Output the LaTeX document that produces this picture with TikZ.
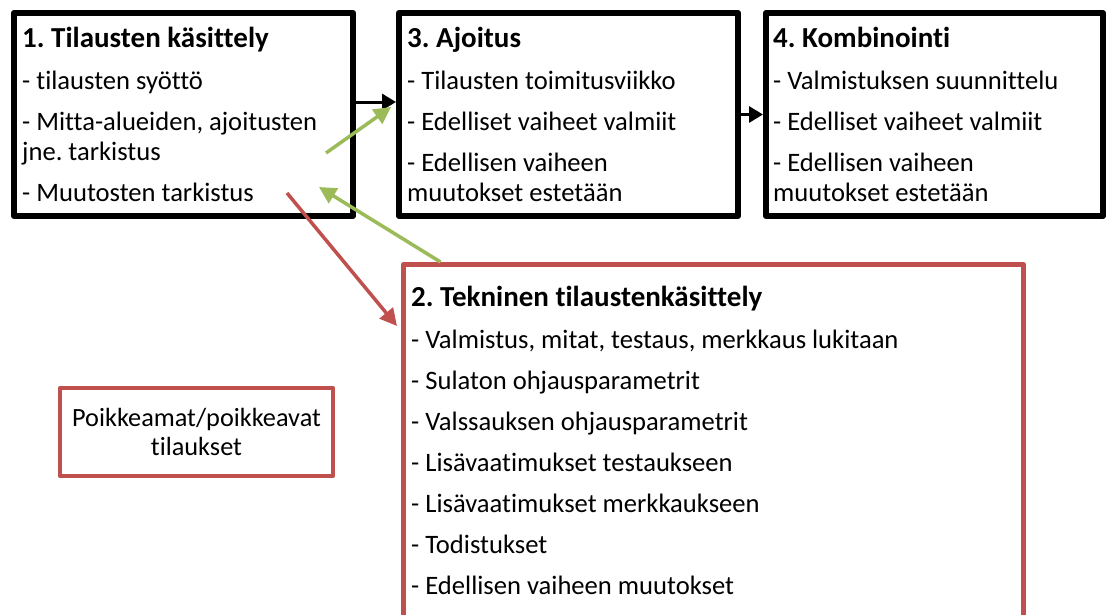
\documentclass[tikz,border=0pt]{standalone}
\usepackage{fontspec}
\setmainfont{Carlito}[Ligatures=NoCommon]
\usetikzlibrary{arrows.meta}
\definecolor{ofred}{HTML}{C0504D}
\definecolor{ofgreen}{HTML}{9BBB59}
\newcommand{\boxtitle}[1]{{\fontsize{29}{30}\selectfont\bfseries #1}}
\tikzset{
  blkbox/.style={draw=black, line width=6pt, line join=round, inner sep=0pt, fill=white},
  redbox/.style={draw=ofred, line width=5pt, line join=round, inner sep=0pt, fill=white},
  smallred/.style={draw=ofred, line width=4pt, line join=round, inner sep=0pt, fill=white, align=center, font=\fontsize{26.3}{29}\selectfont},
  boxtext/.style={anchor=base west, inner sep=0pt, font=\fontsize{26.6}{30}\selectfont},
  tip/.style={-{Triangle[length=17pt,width=17pt]}},
  blkarrow/.style={-{Triangle[length=14pt,width=16pt]}, draw=black, line width=3pt},
  grnarrow/.style={tip, draw=ofgreen, line width=3.5pt},
  redarrow/.style={tip, draw=ofred, line width=3.5pt},
}
\begin{document}
\frenchspacing
\begin{tikzpicture}[x=1pt, y=-1pt]
\useasboundingbox (0,0) rectangle (1106,614);
\clip (0,0) rectangle (1106,614);
\fill[white] (0,0) rectangle (1106,614);

% boxes
\node[blkbox, minimum width=339pt, minimum height=203pt] (b1) at (183.5,114.5) {};
\node[blkbox, minimum width=339pt, minimum height=203pt] (b3) at (568.5,114.5) {};
\node[blkbox, minimum width=337pt, minimum height=203pt] (b4) at (934.5,114.5) {};
\node[redbox, minimum width=620pt, minimum height=400pt] (b2) at (713.5,464.5) {};
\node[smallred, minimum width=273pt, minimum height=88pt] (b5) at (196.5,432) {Poikkeamat/poikkeavat\\tilaukset};

% texts
\node[boxtext] (t1) at (22,47) {\parbox[t]{330pt}{\raggedright
  \boxtitle{1. Tilausten käsittely}\\[12pt]
  - tilausten syöttö\\[11pt]
  - Mitta-alueiden, ajoitusten\\
  jne. tarkistus\\[11pt]
  - Muutosten tarkistus}};
\node[boxtext] (t3) at (407,47) {\parbox[t]{330pt}{\raggedright
  \boxtitle{3. Ajoitus}\\[12pt]
  - Tilausten toimitusviikko\\[11pt]
  - Edelliset vaiheet valmiit\\[11pt]
  - Edellisen vaiheen\\
  muutokset estetään}};
\node[boxtext] (t4) at (773,47) {\parbox[t]{330pt}{\raggedright
  \boxtitle{4. Kombinointi}\\[12pt]
  - Valmistuksen suunnittelu\\[11pt]
  - Edelliset vaiheet valmiit\\[11pt]
  - Edellisen vaiheen\\
  muutokset estetään}};
\node[boxtext] (t2) at (411,306) {\parbox[t]{600pt}{\raggedright
  \boxtitle{2. Tekninen tilaustenkäsittely}\\[12pt]
  - Valmistus, mitat, testaus, merkkaus lukitaan\\[11pt]
  - Sulaton ohjausparametrit\\[11pt]
  - Valssauksen ohjausparametrit\\[11pt]
  - Lisävaatimukset testaukseen\\[11pt]
  - Lisävaatimukset merkkaukseen\\[11pt]
  - Todistukset\\[11pt]
  - Edellisen vaiheen muutokset}};

% connectors
\coordinate (g1s) at (326,153);
\coordinate (g2t) at (319,187);
\coordinate (r1s) at (287,193);
\draw[blkarrow] ([yshift=12.5pt]b1.east) -- ([yshift=12.5pt]b3.west);
\draw[blkarrow] (b3.east) -- (b4.west);
\draw[grnarrow] (g1s) -- ([shift={(-5pt,7.5pt)}]b3.west);
\draw[grnarrow] ([xshift=39.5pt]b2.north west) -- (g2t);
\draw[redarrow] (r1s) -- ([shift={(-4pt,-64pt)}]b2.north west);
\end{tikzpicture}
\end{document}
